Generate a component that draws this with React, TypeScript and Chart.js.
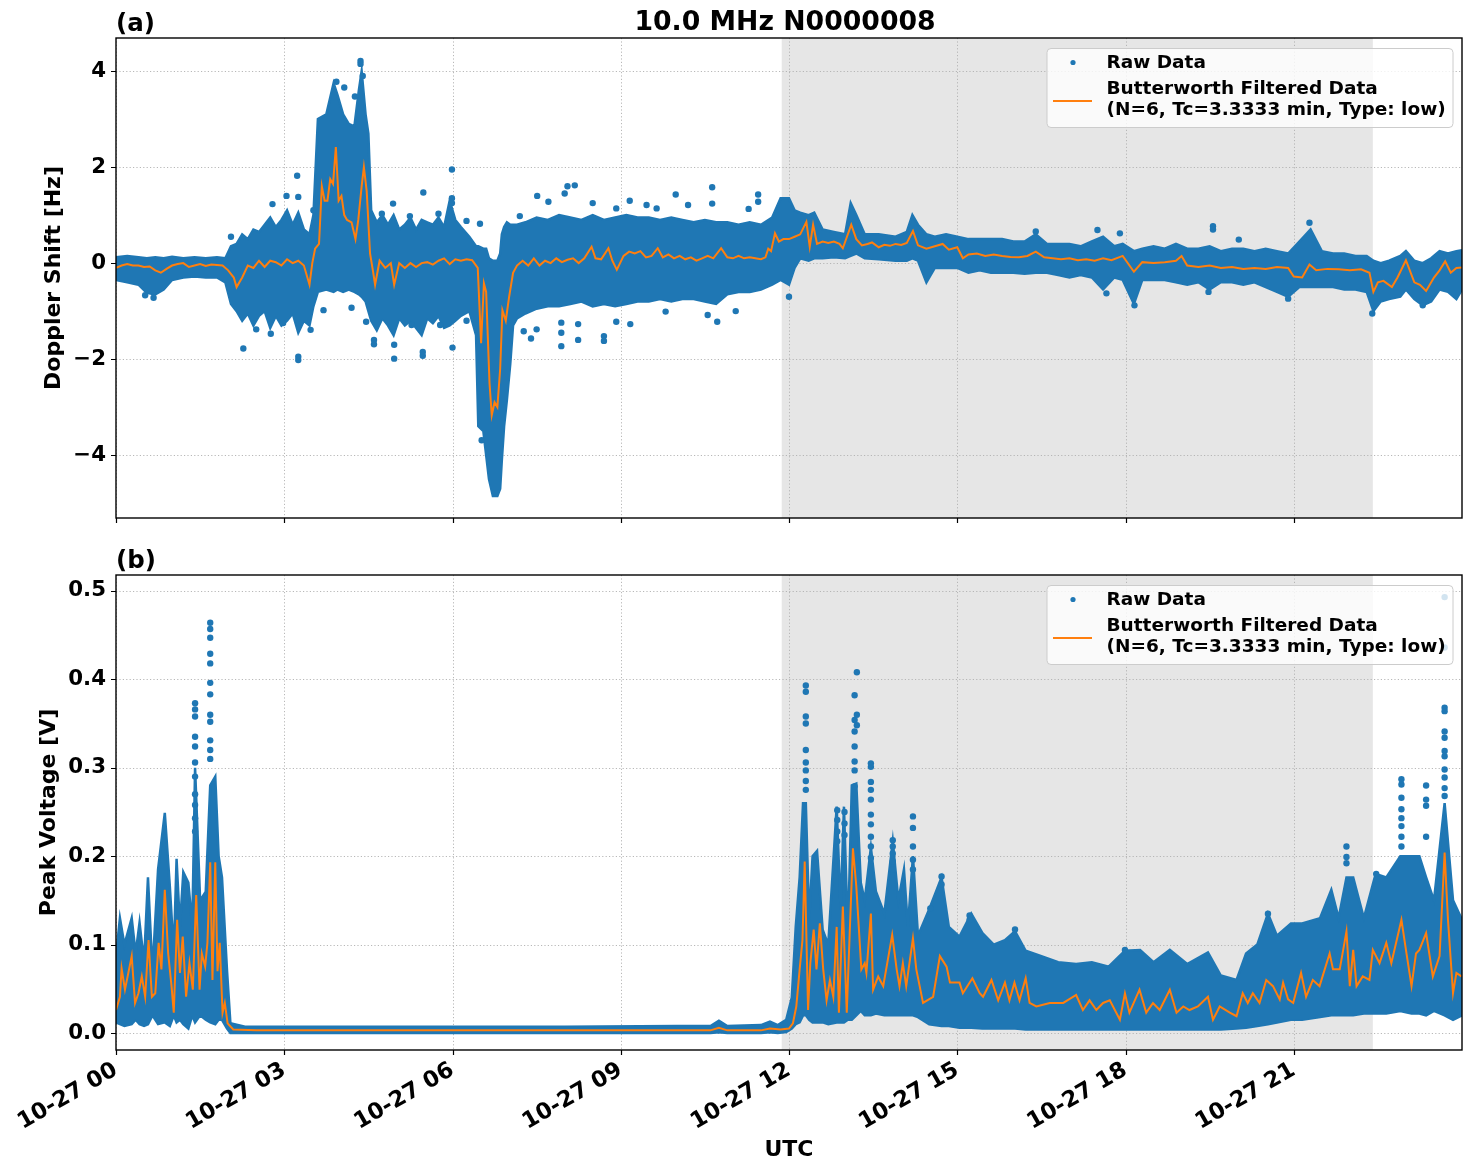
import React, { useEffect, useRef } from "react";
import { Chart, registerables } from "chart.js";

Chart.register(...registerables);

const FONT_FAMILY = "'DejaVu Sans', 'Liberation Sans', sans-serif";
const BLUE = "#1f77b4";
const ORANGE = "#ff7f0e";

// ---------- shared axis data ----------
const xTickHours = [0, 3, 6, 9, 12, 15, 18, 21];
const xTickLabels = ["10-27 00", "10-27 03", "10-27 06", "10-27 09", "10-27 12", "10-27 15", "10-27 18", "10-27 21"];
const xMinHour = 0;
const xMaxHour = 24;
const shadeStartHour = 11.87;
const shadeEndHour = 22.41;

const chartTitle = "10.0 MHz N0000008";
const xAxisLabel = "UTC";
const legendRawLabel = "Raw Data";
const legendFilteredLines = ["Butterworth Filtered Data", "(N=6, Tc=3.3333 min, Type: low)"];

// ---------- panel (a): Doppler shift ----------
const topPanelLabel = "(a)";
const topYLabel = "Doppler Shift [Hz]";
const topYTicks = [-4, -2, 0, 2, 4];
const topYTickLabels = ["\u22124", "\u22122", "0", "2", "4"];
const topYMin = -5.31;
const topYMax = 4.69;

// upper / lower edge of the dense raw-data cloud
const topRawTimes = [
  0, 0.2, 0.4, 0.55, 0.7, 0.85, 1.0, 1.2, 1.4, 1.6,
  1.8, 1.95, 2.05, 2.15, 2.25, 2.35, 2.45, 2.55, 2.65, 2.75,
  2.85, 2.95, 3.05, 3.15, 3.25, 3.35, 3.45, 3.52, 3.6, 3.75,
  3.88, 3.95, 4.05, 4.15, 4.25, 4.33, 4.38, 4.45, 4.5, 4.55,
  4.65, 4.75, 4.85, 4.95, 5.05, 5.15, 5.25, 5.35, 5.45, 5.55,
  5.65, 5.75, 5.85, 5.95, 6.05, 6.15, 6.3, 6.42, 6.46, 6.55,
  6.6, 6.65, 6.72, 6.8, 6.85, 6.88, 6.92, 6.97, 7.03, 7.08,
  7.15, 7.3, 7.5, 7.7, 7.9, 8.1, 8.3, 8.5, 8.7, 8.9,
  9.1, 9.3, 9.5, 9.7, 9.9, 10.1, 10.3, 10.5, 10.7, 10.9,
  11.1, 11.3, 11.5, 11.7, 11.85, 12.0, 12.1, 12.2, 12.35, 12.45,
  12.6, 12.8, 13.0, 13.1, 13.2, 13.35, 13.6, 13.9, 14.1, 14.2,
  14.3, 14.45, 14.6, 14.8, 15.0, 15.2, 15.4, 15.6, 15.8, 16.0,
  16.2, 16.4, 16.6, 16.8, 17.0, 17.2, 17.4, 17.6, 17.8, 17.95,
  18.15, 18.3, 18.5, 18.7, 18.9, 19.1, 19.3, 19.5, 19.7, 19.9,
  20.1, 20.3, 20.5, 20.7, 20.9, 21.1, 21.3, 21.5, 21.7, 21.9,
  22.1, 22.3, 22.42, 22.55, 22.7, 22.9, 23.0, 23.15, 23.3, 23.45,
  23.6, 23.75, 23.9, 24.0,
];
const topRawHigh = [
  0.12, 0.15, 0.12, 0.1, 0.12, 0.1, 0.13, 0.1, 0.12, 0.1,
  0.12, 0.1, 0.35, 0.4, 0.6, 0.5, 0.7, 0.65, 0.8, 0.95,
  0.75, 0.9, 1.1, 0.8, 1.05, 0.7, 0.6, 1.0, 3.0, 3.1,
  3.75, 3.5, 3.1, 2.9, 2.85, 3.6, 4.0, 3.1, 2.7, 1.1,
  0.85, 1.0, 0.8, 1.0, 0.7, 0.8, 0.95, 0.7, 0.9, 0.85,
  0.8, 0.95, 0.75, 1.3, 0.9, 0.75, 0.55, 0.35, 0.35, 0.3,
  0.3, 0.1, 0.05, 0.05, 0.2, 0.6, 0.75, 0.85, 0.8, 0.8,
  0.8, 0.85, 0.95, 0.9, 1.0, 0.95, 0.9, 1.0, 0.9, 0.95,
  1.0, 0.95, 0.95, 0.9, 0.95, 0.9, 0.85, 0.9, 0.85, 0.85,
  0.8, 0.85, 0.8, 0.95, 1.35, 1.35, 1.1, 1.05, 1.0, 1.05,
  0.7, 0.65, 0.6, 1.25, 1.0, 0.6, 0.6, 0.55, 0.65, 1.0,
  0.8, 0.6, 0.55, 0.6, 0.55, 0.5, 0.5, 0.5, 0.5, 0.45,
  0.45, 0.6, 0.4, 0.4, 0.4, 0.35, 0.45, 0.55, 0.35, 0.4,
  0.25, 0.3, 0.35, 0.3, 0.4, 0.3, 0.3, 0.35, 0.25, 0.3,
  0.3, 0.25, 0.3, 0.25, 0.2, 0.45, 0.7, 0.25, 0.2, 0.2,
  0.15, 0.15, 0.05, 0.0, 0.05, 0.15, 0.25, 0.05, 0.0, 0.1,
  0.25, 0.2, 0.25, 0.27,
];
const topRawLow = [
  -0.35, -0.4, -0.45, -0.62, -0.65, -0.55, -0.35, -0.3, -0.28, -0.3,
  -0.3, -0.4, -0.85, -1.0, -1.2, -1.05, -1.3, -1.1, -1.0, -1.35,
  -1.1, -1.3, -1.2, -1.05, -1.45, -1.2, -1.3, -0.9, -0.6, -0.55,
  -0.6, -0.55, -0.6, -0.55, -0.6, -0.65, -0.7, -0.8, -1.0, -1.2,
  -1.4, -1.15, -1.3, -1.5, -1.15, -1.3, -1.2, -1.35, -1.5, -1.15,
  -1.25, -1.1, -1.35, -1.3, -1.2, -1.1, -1.0, -1.5, -3.4, -3.5,
  -4.0, -4.5, -4.85, -4.85, -4.7, -4.1, -3.4, -2.85, -2.1, -1.3,
  -1.15, -1.05, -0.95, -0.9, -0.9, -0.85, -0.8, -0.9, -0.85, -0.9,
  -0.85, -0.8, -0.8, -0.75, -0.8, -0.75, -0.75, -0.8, -0.85, -0.65,
  -0.6, -0.6, -0.55, -0.45, -0.35, -0.45, -0.1, 0.1, 0.05, 0.1,
  0.1, 0.12, 0.1, 0.15, 0.2, 0.1, 0.08, 0.05, 0.05, 0.1,
  0.05, -0.4, -0.1, -0.1, -0.1, -0.2, -0.15, -0.2, -0.2, -0.2,
  -0.22, -0.2, -0.2, -0.25, -0.3, -0.25, -0.3, -0.55, -0.3, -0.35,
  -0.85, -0.35, -0.35, -0.35, -0.4, -0.45, -0.4, -0.55, -0.4, -0.4,
  -0.45, -0.4, -0.5, -0.6, -0.7, -0.5, -0.5, -0.5, -0.5, -0.55,
  -0.55, -0.6, -1.0, -0.8, -0.75, -0.7, -0.55, -0.75, -0.88, -0.8,
  -0.55, -0.6, -0.75, -0.55,
];

const topFiltTimes = [
  0, 0.1, 0.2, 0.3, 0.4, 0.5, 0.6, 0.7, 0.8, 0.9,
  1.0, 1.1, 1.2, 1.3, 1.4, 1.5, 1.6, 1.7, 1.8, 1.9,
  2.0, 2.1, 2.15, 2.25, 2.35, 2.45, 2.55, 2.65, 2.75, 2.85,
  2.95, 3.05, 3.15, 3.25, 3.35, 3.45, 3.5, 3.55, 3.62, 3.67,
  3.72, 3.77, 3.82, 3.87, 3.92, 3.97, 4.02, 4.07, 4.12, 4.2,
  4.27, 4.32, 4.38, 4.42, 4.47, 4.53, 4.58, 4.62, 4.7, 4.8,
  4.9, 4.96, 5.05, 5.15, 5.25, 5.35, 5.45, 5.55, 5.65, 5.75,
  5.85, 5.95, 6.05, 6.15, 6.25, 6.35, 6.45, 6.51, 6.56, 6.6,
  6.66, 6.7, 6.75, 6.8, 6.85, 6.89, 6.95, 7.01, 7.08, 7.15,
  7.25, 7.35, 7.45, 7.55, 7.65, 7.75, 7.85, 7.95, 8.05, 8.15,
  8.25, 8.35, 8.48, 8.55, 8.65, 8.78, 8.85, 8.93, 9.05, 9.15,
  9.25, 9.35, 9.45, 9.55, 9.66, 9.75, 9.85, 9.95, 10.05, 10.15,
  10.25, 10.35, 10.45, 10.55, 10.65, 10.79, 10.9, 11.0, 11.1, 11.2,
  11.3, 11.4, 11.5, 11.58, 11.63, 11.68, 11.75, 11.82, 11.9, 12.0,
  12.1, 12.2, 12.31, 12.37, 12.43, 12.5, 12.6, 12.7, 12.8, 12.9,
  12.96, 13.11, 13.2, 13.3, 13.4, 13.48, 13.6, 13.7, 13.8, 13.9,
  14.0, 14.1, 14.21, 14.3, 14.45, 14.6, 14.74, 14.85, 15.0, 15.1,
  15.2, 15.35, 15.5, 15.65, 15.8, 15.95, 16.1, 16.25, 16.4, 16.55,
  16.7, 16.85, 17.0, 17.15, 17.3, 17.45, 17.6, 17.75, 17.95, 18.15,
  18.3, 18.5, 18.7, 18.9, 19.0, 19.1, 19.3, 19.5, 19.7, 19.9,
  20.1, 20.3, 20.5, 20.7, 20.9, 21.0, 21.15, 21.28, 21.4, 21.6,
  21.8, 22.0, 22.2, 22.35, 22.42, 22.5, 22.6, 22.75, 22.85, 23.0,
  23.15, 23.25, 23.36, 23.5, 23.6, 23.7, 23.8, 23.9, 24.0,
];
const topFiltValues = [
  -0.1, -0.05, -0.02, -0.05, -0.05, -0.08, -0.07, -0.15, -0.2, -0.12,
  -0.05, -0.02, 0.0, -0.08, -0.05, -0.02, -0.06, -0.03, -0.04, -0.05,
  -0.15, -0.3, -0.5, -0.3, -0.05, -0.1, 0.05, -0.08, 0.05, 0.02,
  -0.05, 0.08, 0.0, 0.05, -0.05, -0.45, 0.0, 0.3, 0.4, 1.6,
  1.3, 1.3, 1.75, 1.65, 2.42, 1.3, 1.4, 1.0, 0.9, 0.85,
  0.5, 0.9, 1.6, 2.0, 1.5, 0.2, -0.15, -0.45, 0.05, -0.1,
  0.0, -0.45, 0.0, -0.1, 0.0, -0.08, 0.0, 0.02, -0.03, 0.05,
  0.1, -0.02, 0.08, 0.05, 0.08, 0.06, -0.1, -1.67, -0.42, -0.6,
  -2.5, -3.17, -2.9, -3.0, -2.2, -0.98, -1.2, -0.7, -0.2, -0.05,
  0.05, -0.05, 0.1, -0.05, 0.05, 0.0, 0.1, 0.02, 0.07, 0.1,
  0.0, 0.1, 0.34, 0.1, 0.08, 0.31, 0.05, -0.14, 0.15, 0.24,
  0.2, 0.25, 0.12, 0.15, 0.31, 0.12, 0.18, 0.1, 0.15, 0.08,
  0.12, 0.05, 0.1, 0.15, 0.1, 0.31, 0.12, 0.1, 0.15, 0.1,
  0.12, 0.1, 0.08, 0.12, 0.3, 0.25, 0.62, 0.45, 0.5, 0.5,
  0.55, 0.6, 0.86, 0.34, 0.8, 0.4, 0.45, 0.42, 0.45, 0.4,
  0.31, 0.8, 0.5, 0.37, 0.4, 0.43, 0.33, 0.38, 0.36, 0.4,
  0.38, 0.42, 0.67, 0.37, 0.3, 0.35, 0.4, 0.28, 0.33, 0.1,
  0.18, 0.2, 0.15, 0.18, 0.15, 0.13, 0.12, 0.15, 0.24, 0.12,
  0.1, 0.08, 0.1, 0.06, 0.08, 0.05, 0.1, 0.06, 0.15, -0.18,
  0.02, 0.0, 0.02, 0.05, 0.15, -0.05, -0.08, -0.05, -0.1, -0.08,
  -0.12, -0.1, -0.12, -0.08, -0.1, -0.28, -0.3, -0.03, -0.15, -0.12,
  -0.13, -0.15, -0.13, -0.2, -0.6, -0.4, -0.37, -0.5, -0.3, 0.06,
  -0.4, -0.45, -0.58, -0.3, -0.15, 0.04, -0.2, -0.1, -0.09,
];

// isolated raw points standing out of the dense cloud (time column -> values)
const topSpikeTimes = [
  0.52, 0.67, 2.05, 2.27, 2.5, 2.76, 2.79, 2.98, 3.04, 3.23,
  3.25, 3.47, 3.52, 3.7, 3.93, 4.07, 4.2, 4.26, 4.36, 4.4,
  4.46, 4.6, 4.74, 4.94, 4.96, 5.24, 5.27, 5.47, 5.48, 5.75,
  5.78, 5.99, 6.0, 6.25, 6.49, 6.52, 7.2, 7.27, 7.4, 7.5,
  7.51, 7.71, 7.94, 8.0, 8.05, 8.18, 8.24, 8.5, 8.7, 8.92,
  9.16, 9.17, 9.46, 9.64, 9.8, 9.98, 10.2, 10.55, 10.63, 10.72,
  11.05, 11.28, 11.45, 12.0, 16.4, 17.5, 17.66, 17.9, 18.16, 19.48,
  19.56, 20.02, 20.9, 21.28, 22.4, 23.3,
];
const topSpikeValues = [
  [-0.67], [-0.72], [0.55], [-1.78], [-1.38], [-1.47], [1.23], [-1.25], [1.4], [1.82],
  [1.38, -2.02, -1.95], [-1.39], [1.1], [-0.98], [3.78], [3.66], [-0.93], [3.47], [4.21, 4.15], [3.9],
  [-1.22], [-1.69, -1.6], [1.03], [1.24], [-1.99, -1.7], [0.98], [-1.29], [-1.93, -1.85], [1.47], [1.03],
  [-1.29], [1.95, 1.35, 1.25], [-1.76], [0.88, -1.2], [0.82], [-3.69], [0.98], [-1.42], [-1.57], [-1.38],
  [1.4], [1.28], [-1.73, -1.45, -1.24], [1.45], [1.6], [1.62], [-1.6, -1.27], [1.25], [-1.52, -1.62], [1.14, -1.22],
  [1.3], [-1.27], [1.21], [1.14], [-1.01], [1.43], [1.21], [-1.08], [1.58, 1.24], [-1.22],
  [-1.0], [1.13], [1.43, 1.28], [-0.7], [0.66], [0.69], [-0.63], [0.62], [-0.88], [-0.6],
  [0.77, 0.7], [0.49], [-0.74], [0.84], [-1.05], [-0.88],
];

// ---------- panel (b): Peak voltage ----------
const bottomPanelLabel = "(b)";
const bottomYLabel = "Peak Voltage [V]";
const bottomYTicks = [0, 0.1, 0.2, 0.3, 0.4, 0.5];
const bottomYTickLabels = ["0.0", "0.1", "0.2", "0.3", "0.4", "0.5"];
const bottomYMin = -0.0192;
const bottomYMax = 0.518;

const bottomRawTimes = [
  0.0, 0.07, 0.15, 0.28, 0.35, 0.42, 0.5, 0.57, 0.65, 0.75,
  0.87, 0.96, 1.03, 1.08, 1.14, 1.2, 1.29, 1.36, 1.41, 1.5,
  1.6, 1.68, 1.77, 1.83, 1.89, 1.98, 2.04, 2.3, 4.0, 6.0,
  8.0, 10.0, 10.6, 10.75, 10.9, 11.5, 11.66, 11.8, 11.95, 12.05,
  12.12, 12.19, 12.25, 12.3, 12.36, 12.42, 12.5, 12.6, 12.7, 12.85,
  12.92, 12.98, 13.05, 13.12, 13.2, 13.28, 13.35, 13.46, 13.55, 13.7,
  13.85, 13.95, 14.05, 14.12, 14.21, 14.3, 14.5, 14.72, 14.85, 15.04,
  15.25, 15.45, 15.65, 15.85, 16.03, 16.22, 16.5, 16.8, 17.12, 17.4,
  17.7, 17.99, 18.26, 18.5, 18.79, 19.1, 19.47, 19.7, 19.98, 20.15,
  20.35, 20.54, 20.7, 20.95, 21.15, 21.47, 21.67, 21.8, 21.94, 22.06,
  22.25, 22.46, 22.65, 22.9, 23.1, 23.24, 23.36, 23.5, 23.69, 23.84,
  24.0,
];
const bottomRawHigh = [
  0.087, 0.13, 0.1, 0.13, 0.09, 0.125, 0.08, 0.176, 0.07, 0.185,
  0.249, 0.166, 0.09, 0.197, 0.12, 0.182, 0.17, 0.12, 0.3, 0.15,
  0.16, 0.28, 0.29, 0.2, 0.176, 0.07, 0.011, 0.007, 0.007, 0.007,
  0.007, 0.008, 0.008, 0.014, 0.008, 0.009, 0.013, 0.009, 0.015, 0.04,
  0.12, 0.176, 0.26, 0.26, 0.128, 0.2, 0.206, 0.117, 0.1, 0.256,
  0.14, 0.256, 0.11, 0.28, 0.282, 0.17, 0.15, 0.21, 0.16, 0.135,
  0.217, 0.15, 0.185, 0.12, 0.2, 0.11, 0.14, 0.176, 0.12, 0.109,
  0.135, 0.113, 0.1, 0.105, 0.115, 0.093, 0.087, 0.08, 0.078, 0.08,
  0.075, 0.093, 0.094, 0.08, 0.094, 0.078, 0.091, 0.065, 0.06, 0.09,
  0.1, 0.135, 0.11, 0.124, 0.124, 0.13, 0.162, 0.13, 0.176, 0.176,
  0.13, 0.18, 0.176, 0.2, 0.2, 0.2, 0.176, 0.15, 0.26, 0.15,
  0.128,
];
const bottomRawLow = [
  0.012, 0.01, 0.008, 0.01, 0.015, 0.01, 0.008, 0.01, 0.02, 0.01,
  0.012, 0.008, 0.02, 0.012, 0.015, 0.01, 0.005, 0.02, 0.012, 0.02,
  0.015, 0.012, 0.01, 0.015, 0.015, 0.005, 0.0, 0.0, 0.0, 0.0,
  0.0, 0.0, 0.0, 0.001, 0.0, 0.0, 0.001, 0.0, 0.001, 0.005,
  0.01, 0.012, 0.02, 0.02, 0.015, 0.012, 0.012, 0.012, 0.01, 0.012,
  0.012, 0.012, 0.015, 0.015, 0.02, 0.025, 0.02, 0.02, 0.022, 0.02,
  0.02, 0.02, 0.02, 0.02, 0.02, 0.018, 0.01, 0.008, 0.008, 0.006,
  0.006, 0.005, 0.005, 0.005, 0.005, 0.004, 0.004, 0.004, 0.004, 0.004,
  0.004, 0.004, 0.004, 0.004, 0.004, 0.004, 0.004, 0.004, 0.005, 0.006,
  0.008, 0.01, 0.012, 0.015, 0.015, 0.018, 0.02, 0.02, 0.02, 0.02,
  0.022, 0.022, 0.022, 0.025, 0.022, 0.022, 0.02, 0.025, 0.02, 0.015,
  0.02,
];

const bottomFiltTimes = [
  0.0, 0.07, 0.1, 0.16, 0.22, 0.28, 0.34, 0.4, 0.46, 0.52,
  0.58, 0.64, 0.7, 0.76, 0.81, 0.87, 0.93, 0.99, 1.03, 1.09,
  1.14, 1.19, 1.25, 1.31, 1.37, 1.43, 1.49, 1.53, 1.59, 1.63,
  1.68, 1.72, 1.77, 1.81, 1.85, 1.9, 1.94, 1.99, 2.09, 2.5,
  4.0, 6.0, 8.0, 10.0, 10.6, 10.75, 10.9, 11.5, 11.66, 11.85,
  12.0, 12.07, 12.13, 12.19, 12.24, 12.28, 12.34, 12.38, 12.44, 12.49,
  12.55, 12.61, 12.67, 12.73, 12.79, 12.85, 12.89, 12.96, 13.03, 13.08,
  13.14, 13.2, 13.29, 13.35, 13.38, 13.46, 13.5, 13.59, 13.68, 13.84,
  13.92, 13.97, 14.03, 14.09, 14.21, 14.27, 14.39, 14.57, 14.69, 14.81,
  14.87, 15.04, 15.1, 15.27, 15.4, 15.46, 15.61, 15.73, 15.85, 15.93,
  16.02, 16.11, 16.22, 16.29, 16.41, 16.65, 16.89, 17.12, 17.24, 17.36,
  17.48, 17.6, 17.72, 17.9, 17.99, 18.07, 18.25, 18.37, 18.49, 18.61,
  18.79, 18.91, 19.03, 19.14, 19.29, 19.47, 19.56, 19.68, 19.86, 19.98,
  20.09, 20.18, 20.27, 20.39, 20.51, 20.63, 20.75, 20.81, 20.9, 20.99,
  21.13, 21.22, 21.34, 21.46, 21.64, 21.7, 21.82, 21.94, 22.0, 22.06,
  22.12, 22.23, 22.35, 22.41, 22.53, 22.65, 22.74, 22.92, 23.01, 23.1,
  23.18, 23.24, 23.36, 23.48, 23.6, 23.69, 23.75, 23.84, 23.9, 23.99,
];
const bottomFiltValues = [
  0.026, 0.041, 0.073, 0.049, 0.068, 0.087, 0.034, 0.045, 0.064, 0.041,
  0.105, 0.041, 0.045, 0.102, 0.072, 0.162, 0.09, 0.053, 0.023, 0.128,
  0.068, 0.109, 0.041, 0.079, 0.049, 0.156, 0.049, 0.09, 0.075, 0.102,
  0.193, 0.06, 0.193, 0.07, 0.102, 0.023, 0.034, 0.011, 0.004, 0.003,
  0.003, 0.003, 0.003, 0.003, 0.003, 0.006, 0.003, 0.003, 0.005, 0.004,
  0.005, 0.011, 0.03, 0.072, 0.105, 0.194, 0.026, 0.079, 0.117, 0.072,
  0.124, 0.072, 0.037, 0.06, 0.041, 0.12, 0.023, 0.143, 0.023, 0.109,
  0.209, 0.166, 0.072, 0.079, 0.068, 0.135, 0.049, 0.064, 0.053, 0.111,
  0.072, 0.053, 0.079, 0.053, 0.107, 0.072, 0.034, 0.041, 0.087, 0.075,
  0.057, 0.057, 0.045, 0.062, 0.045, 0.041, 0.06, 0.037, 0.057, 0.037,
  0.057, 0.037, 0.062, 0.034, 0.03, 0.034, 0.034, 0.043, 0.026, 0.037,
  0.026, 0.034, 0.037, 0.015, 0.045, 0.023, 0.049, 0.023, 0.034, 0.026,
  0.049, 0.023, 0.03, 0.026, 0.03, 0.041, 0.015, 0.03, 0.023, 0.019,
  0.045, 0.034, 0.045, 0.034, 0.06, 0.053, 0.038, 0.057, 0.038, 0.034,
  0.068, 0.041, 0.06, 0.053, 0.09, 0.072, 0.072, 0.115, 0.053, 0.094,
  0.053, 0.064, 0.06, 0.094, 0.079, 0.102, 0.079, 0.128, 0.09, 0.053,
  0.09, 0.094, 0.113, 0.064, 0.087, 0.204, 0.128, 0.045, 0.068, 0.064,
];

const bottomSpikeTimes = [
  1.41, 1.68, 12.3, 12.86, 12.99, 13.17, 13.21, 13.46, 13.85, 14.21,
  14.52, 14.72, 15.22, 16.03, 17.99, 20.54, 21.94, 22.47, 22.92, 23.36,
  23.69,
];
const bottomSpikeValues = [
  [0.373, 0.366, 0.358, 0.335, 0.324, 0.306, 0.29, 0.27, 0.258, 0.243, 0.228],
  [0.464, 0.457, 0.447, 0.429, 0.418, 0.396, 0.383, 0.36, 0.352, 0.331, 0.32, 0.31],
  [0.393, 0.386, 0.358, 0.35, 0.32, 0.306, 0.297, 0.285, 0.275],
  [0.252, 0.241, 0.228, 0.217],
  [0.25, 0.237, 0.224],
  [0.382, 0.354, 0.341, 0.324, 0.307, 0.297, 0.279],
  [0.408, 0.36, 0.348],
  [0.305, 0.301, 0.284, 0.275, 0.264, 0.247, 0.236, 0.222, 0.211, 0.198],
  [0.218, 0.211, 0.203, 0.194, 0.185],
  [0.245, 0.232, 0.211, 0.196, 0.185],
  [0.141],
  [0.177, 0.168],
  [0.133, 0.128],
  [0.117],
  [0.094],
  [0.135],
  [0.211, 0.199, 0.192],
  [0.18],
  [0.287, 0.281, 0.266, 0.253, 0.243, 0.234, 0.222, 0.211],
  [0.28, 0.264, 0.257, 0.222],
  [0.368, 0.364, 0.341, 0.334, 0.319, 0.313, 0.298, 0.289, 0.277, 0.268, 0.493, 0.436],
];

// ---------- helpers ----------
const zip = (xs: number[], ys: number[]) => xs.map((x, i) => ({ x, y: ys[i] }));
const spikes = (times: number[], cols: number[][]) =>
  times.flatMap((t, i) => (cols[i] || []).map((v) => ({ x: t, y: v })));
const font = (size: number) => `bold ${size}px ${FONT_FAMILY}`;

type PanelSpec = {
  key: string;
  rawTimes: number[]; rawHigh: number[]; rawLow: number[];
  filtTimes: number[]; filtValues: number[];
  spikeTimes: number[]; spikeValues: number[][];
  yMin: number; yMax: number; yTicks: number[]; yTickLabels: string[];
  yLabel: string; yTitlePad: number;
  showXLabels: boolean; xAxisHeight: number; padTop: number;
  panelLabel: string; title?: string;
};

function makeDecor(spec: PanelSpec) {
  return {
    id: "panelDecor" + spec.key,
    beforeDatasetsDraw(chart: any) {
      const { ctx, chartArea: a, scales } = chart;
      const xs = scales.x, ys = scales.y;
      ctx.save();
      const s0 = xs.getPixelForValue(shadeStartHour);
      const s1 = xs.getPixelForValue(shadeEndHour);
      ctx.fillStyle = "#e6e6e6";
      ctx.fillRect(s0, a.top, s1 - s0, a.bottom - a.top);
      ctx.strokeStyle = "#b0b0b0";
      ctx.lineWidth = 0.9;
      ctx.setLineDash([1.2, 2.2]);
      ctx.beginPath();
      for (const h of xTickHours) {
        const px = Math.round(xs.getPixelForValue(h)) + 0.5;
        ctx.moveTo(px, a.top); ctx.lineTo(px, a.bottom);
      }
      for (const v of spec.yTicks) {
        const py = Math.round(ys.getPixelForValue(v)) + 0.5;
        ctx.moveTo(a.left, py); ctx.lineTo(a.right, py);
      }
      ctx.stroke();
      ctx.restore();
    },
    afterDatasetsDraw(chart: any) {
      const { ctx, chartArea: a, scales } = chart;
      const xs = scales.x, ys = scales.y;
      ctx.save();
      // tick marks
      ctx.strokeStyle = "#000";
      ctx.lineWidth = 1.2;
      ctx.setLineDash([]);
      ctx.beginPath();
      for (const h of xTickHours) {
        const px = Math.round(xs.getPixelForValue(h)) + 0.5;
        ctx.moveTo(px, a.bottom); ctx.lineTo(px, a.bottom + 5);
      }
      for (const v of spec.yTicks) {
        const py = Math.round(ys.getPixelForValue(v)) + 0.5;
        ctx.moveTo(a.left - 5, py); ctx.lineTo(a.left, py);
      }
      ctx.stroke();
      // frame
      ctx.lineWidth = 1.4;
      ctx.strokeRect(a.left, a.top, a.right - a.left, a.bottom - a.top);
      // legend
      const lx = a.right - 415, ly = a.top + 10.5, lw = 406, lh = 79;
      ctx.beginPath();
      if ((ctx as any).roundRect) (ctx as any).roundRect(lx, ly, lw, lh, 4);
      else ctx.rect(lx, ly, lw, lh);
      ctx.fillStyle = "rgba(255,255,255,0.8)";
      ctx.fill();
      ctx.strokeStyle = "#cccccc";
      ctx.lineWidth = 1;
      ctx.stroke();
      ctx.fillStyle = BLUE;
      ctx.beginPath();
      ctx.arc(lx + 26, ly + 14, 2.6, 0, Math.PI * 2);
      ctx.fill();
      ctx.strokeStyle = ORANGE;
      ctx.lineWidth = 2;
      ctx.beginPath();
      ctx.moveTo(lx + 6, ly + 52.5); ctx.lineTo(lx + 45, ly + 52.5);
      ctx.stroke();
      ctx.fillStyle = "#000";
      ctx.font = font(18.5);
      ctx.textAlign = "left";
      ctx.textBaseline = "middle";
      ctx.fillText(legendRawLabel, lx + 59.5, ly + 14.5);
      ctx.fillText(legendFilteredLines[0], lx + 59.5, ly + 41);
      ctx.fillText(legendFilteredLines[1], lx + 59.5, ly + 62);
      // panel label and title
      ctx.textBaseline = "alphabetic";
      ctx.font = font(24.5);
      ctx.textAlign = "left";
      ctx.fillText(spec.panelLabel, a.left, a.top - 7.5);
      if (spec.title) {
        ctx.font = font(26.7);
        ctx.textAlign = "center";
        ctx.fillText(spec.title, (a.left + a.right) / 2 - 4, a.top - 8);
      }
      ctx.restore();
    },
  };
}

function makeConfig(spec: PanelSpec): any {
  return {
    type: "line",
    data: {
      datasets: [
        {
          label: legendFilteredLines.join(" "),
          data: zip(spec.filtTimes, spec.filtValues),
          borderColor: ORANGE, borderWidth: 2, pointRadius: 0, fill: false, tension: 0, order: 0,
        },
        {
          label: legendRawLabel + " spikes",
          data: spikes(spec.spikeTimes, spec.spikeValues),
          showLine: false, pointRadius: 3.2, pointBorderWidth: 0,
          pointBackgroundColor: BLUE, backgroundColor: BLUE, borderColor: BLUE, order: 1,
        },
        {
          label: legendRawLabel + " upper",
          data: zip(spec.rawTimes, spec.rawHigh),
          borderColor: BLUE, backgroundColor: BLUE, borderWidth: 2.5, pointRadius: 0,
          fill: "+1", tension: 0, order: 2,
        },
        {
          label: legendRawLabel + " lower",
          data: zip(spec.rawTimes, spec.rawLow),
          borderColor: BLUE, backgroundColor: BLUE, borderWidth: 2.5, pointRadius: 0,
          fill: false, tension: 0, order: 3,
        },
      ],
    },
    options: {
      animation: false,
      responsive: false,
      maintainAspectRatio: false,
      devicePixelRatio: 1,
      events: [],
      layout: { padding: { top: spec.padTop, right: 9, left: 0, bottom: 0 } },
      plugins: { legend: { display: false }, tooltip: { enabled: false }, title: { display: false } },
      scales: {
        x: {
          type: "linear", min: xMinHour, max: xMaxHour,
          afterBuildTicks: (axis: any) => { axis.ticks = xTickHours.map((v) => ({ value: v })); },
          afterFit: (axis: any) => { axis.height = spec.xAxisHeight; },
          grid: { display: false, drawTicks: false },
          border: { display: false },
          ticks: {
            display: spec.showXLabels, autoSkip: false, minRotation: 30, maxRotation: 30,
            padding: 7, color: "#000", font: { family: FONT_FAMILY, size: 22.5, weight: "bold" },
            callback: (v: number) => { const i = xTickHours.indexOf(v); return i >= 0 ? xTickLabels[i] : ""; },
          },
          title: {
            display: spec.showXLabels, text: xAxisLabel, color: "#000",
            font: { family: FONT_FAMILY, size: 22, weight: "bold" }, padding: { top: 0, bottom: 9 },
          },
        },
        y: {
          type: "linear", min: spec.yMin, max: spec.yMax,
          afterBuildTicks: (axis: any) => { axis.ticks = spec.yTicks.map((v) => ({ value: v })); },
          afterFit: (axis: any) => { axis.width = 116; },
          grid: { display: false, drawTicks: false },
          border: { display: false },
          ticks: {
            padding: 10, color: "#000", font: { family: FONT_FAMILY, size: 21.3, weight: "bold" },
            callback: (v: number) => { const i = spec.yTicks.indexOf(v); return i >= 0 ? spec.yTickLabels[i] : ""; },
          },
          title: {
            display: true, text: spec.yLabel, color: "#000",
            font: { family: FONT_FAMILY, size: 22, weight: "bold" }, padding: { top: spec.yTitlePad, bottom: 0 },
          },
        },
      },
    },
    plugins: [makeDecor(spec)],
  };
}

const topSpec: PanelSpec = {
  key: "a",
  rawTimes: topRawTimes, rawHigh: topRawHigh, rawLow: topRawLow,
  filtTimes: topFiltTimes, filtValues: topFiltValues,
  spikeTimes: topSpikeTimes, spikeValues: topSpikeValues,
  yMin: topYMin, yMax: topYMax, yTicks: topYTicks, yTickLabels: topYTickLabels,
  yLabel: topYLabel, yTitlePad: 40.8,
  showXLabels: false, xAxisHeight: 27, padTop: 38,
  panelLabel: topPanelLabel, title: chartTitle,
};

const bottomSpec: PanelSpec = {
  key: "b",
  rawTimes: bottomRawTimes, rawHigh: bottomRawHigh, rawLow: bottomRawLow,
  filtTimes: bottomFiltTimes, filtValues: bottomFiltValues,
  spikeTimes: bottomSpikeTimes, spikeValues: bottomSpikeValues,
  yMin: bottomYMin, yMax: bottomYMax, yTicks: bottomYTicks, yTickLabels: bottomYTickLabels,
  yLabel: bottomYLabel, yTitlePad: 36.3,
  showXLabels: true, xAxisHeight: 122, padTop: 30,
  panelLabel: bottomPanelLabel,
};

export default function App() {
  const topRef = useRef<HTMLCanvasElement | null>(null);
  const bottomRef = useRef<HTMLCanvasElement | null>(null);

  useEffect(() => {
    const charts: Chart[] = [];
    if (topRef.current) charts.push(new Chart(topRef.current, makeConfig(topSpec)));
    if (bottomRef.current) charts.push(new Chart(bottomRef.current, makeConfig(bottomSpec)));
    return () => { charts.forEach((c) => c.destroy()); };
  }, []);

  return (
    <div style={{ position: "absolute", left: 0, top: 0, width: 1471, height: 1172, background: "#fff" }}>
      <canvas ref={topRef} width={1471} height={545}
        style={{ position: "absolute", left: 0, top: 0, width: 1471, height: 545 }} />
      <canvas ref={bottomRef} width={1471} height={627}
        style={{ position: "absolute", left: 0, top: 545, width: 1471, height: 627 }} />
    </div>
  );
}
